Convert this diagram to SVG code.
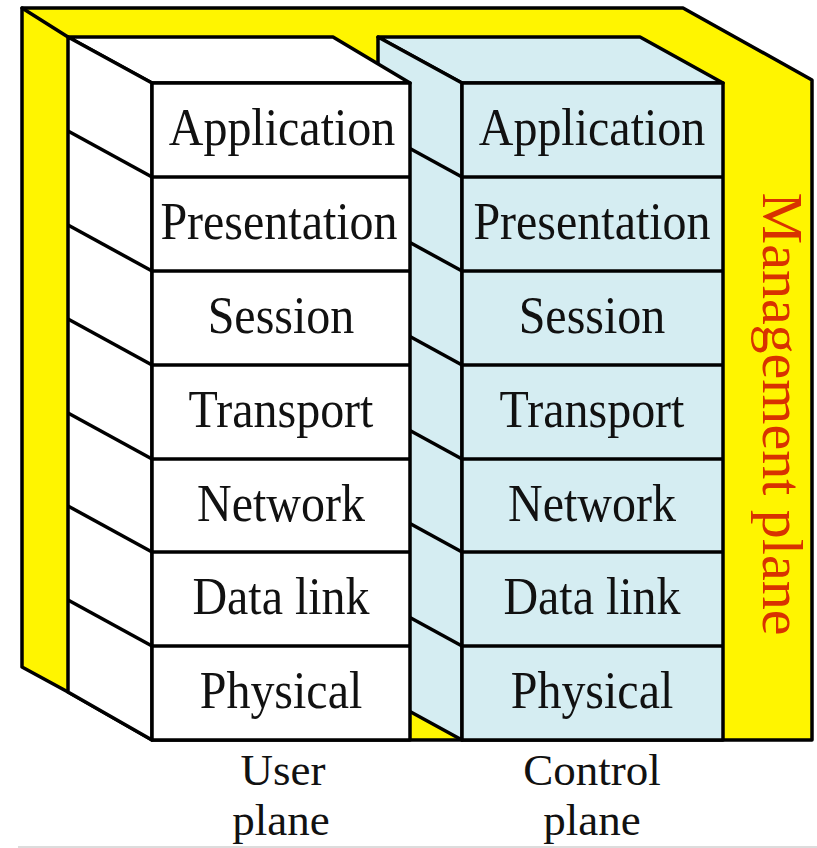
<svg xmlns="http://www.w3.org/2000/svg" width="817" height="848" viewBox="0 0 817 848">
  <style>
    .edge { stroke: #000; stroke-width: 3.5; stroke-linejoin: round; stroke-linecap: round; }
    .yellow { fill: #fff500; }
    .white { fill: #ffffff; }
    .blue { fill: #d5edf2; }
    .lbl { font-family: "Liberation Serif", "Times New Roman", serif; font-size: 48px; fill: #111; text-anchor: middle; }
    .cap { font-family: "Liberation Serif", "Times New Roman", serif; font-size: 45px; fill: #111; text-anchor: middle; }
    .mgmt { font-family: "Liberation Serif", "Times New Roman", serif; font-size: 58px; fill: #d83200; text-anchor: middle; }
    .row { stroke: #000; stroke-width: 3.5; fill: none; }
  </style>
  <rect x="0" y="0" width="817" height="848" fill="#ffffff"/>

  <g id="management-plane">
    <polygon class="yellow edge" points="22,8 683,8 812,80 812,740 152,740 68,692 22,667"/>
    <line class="edge" x1="22" y1="8" x2="68" y2="37"/>
    <text class="mgmt" transform="translate(763,414) rotate(90)">Management plane</text>
  </g>

  <g id="control-plane">
    <polygon class="blue edge" points="378,37 640,37 723,83 462,83"/>
    <polygon class="blue edge" points="378,37 462,83 462,740 378,694"/>
    <rect class="blue edge" x="462" y="83" width="261" height="657"/>
    <g class="row">
      <line x1="378" y1="131" x2="462" y2="177"/>
      <line x1="378" y1="225" x2="462" y2="271"/>
      <line x1="378" y1="319" x2="462" y2="365"/>
      <line x1="378" y1="413" x2="462" y2="459"/>
      <line x1="378" y1="506" x2="462" y2="552"/>
      <line x1="378" y1="600" x2="462" y2="646"/>
      <line x1="462" y1="177" x2="723" y2="177"/>
      <line x1="462" y1="271" x2="723" y2="271"/>
      <line x1="462" y1="365" x2="723" y2="365"/>
      <line x1="462" y1="459" x2="723" y2="459"/>
      <line x1="462" y1="552" x2="723" y2="552"/>
      <line x1="462" y1="646" x2="723" y2="646"/>
    </g>
  </g>

  <g id="user-plane">
    <polygon class="white edge" points="68,37 333,37 410,83 152,83"/>
    <polygon class="white edge" points="68,37 152,83 152,740 68,692"/>
    <rect class="white edge" x="152" y="83" width="258" height="657"/>
    <g class="row">
      <line x1="68" y1="131" x2="152" y2="177"/>
      <line x1="68" y1="225" x2="152" y2="271"/>
      <line x1="68" y1="319" x2="152" y2="365"/>
      <line x1="68" y1="413" x2="152" y2="459"/>
      <line x1="68" y1="506" x2="152" y2="552"/>
      <line x1="68" y1="600" x2="152" y2="646"/>
      <line x1="152" y1="177" x2="410" y2="177"/>
      <line x1="152" y1="271" x2="410" y2="271"/>
      <line x1="152" y1="365" x2="410" y2="365"/>
      <line x1="152" y1="459" x2="410" y2="459"/>
      <line x1="152" y1="552" x2="410" y2="552"/>
      <line x1="152" y1="646" x2="410" y2="646"/>
    </g>
  </g>

  <g id="user-application"><text class="lbl" transform="translate(282,145) scale(1,1.08)">Application</text></g>
  <g id="user-presentation"><text class="lbl" transform="translate(279,239) scale(1,1.08)">Presentation</text></g>
  <g id="user-session"><text class="lbl" transform="translate(281,333) scale(1,1.08)">Session</text></g>
  <g id="user-transport"><text class="lbl" transform="translate(281,427) scale(1,1.08)">Transport</text></g>
  <g id="user-network"><text class="lbl" transform="translate(281,521) scale(1,1.08)">Network</text></g>
  <g id="user-datalink"><text class="lbl" transform="translate(281,614) scale(1,1.08)">Data link</text></g>
  <g id="user-physical"><text class="lbl" transform="translate(281,708) scale(1,1.08)">Physical</text></g>

  <g id="control-application"><text class="lbl" transform="translate(592,145) scale(1,1.08)">Application</text></g>
  <g id="control-presentation"><text class="lbl" transform="translate(592,239) scale(1,1.08)">Presentation</text></g>
  <g id="control-session"><text class="lbl" transform="translate(592,333) scale(1,1.08)">Session</text></g>
  <g id="control-transport"><text class="lbl" transform="translate(592,427) scale(1,1.08)">Transport</text></g>
  <g id="control-network"><text class="lbl" transform="translate(592,521) scale(1,1.08)">Network</text></g>
  <g id="control-datalink"><text class="lbl" transform="translate(592,614) scale(1,1.08)">Data link</text></g>
  <g id="control-physical"><text class="lbl" transform="translate(592,708) scale(1,1.08)">Physical</text></g>

  <g id="label-user">
    <text class="cap" x="283" y="785">User</text>
    <text class="cap" x="281" y="835">plane</text>
  </g>
  <g id="label-control">
    <text class="cap" x="592" y="785">Control</text>
    <text class="cap" x="592" y="835">plane</text>
  </g>

  <line x1="18" y1="847" x2="817" y2="847" stroke="#d0d0d0" stroke-width="1.5"/>
</svg>
